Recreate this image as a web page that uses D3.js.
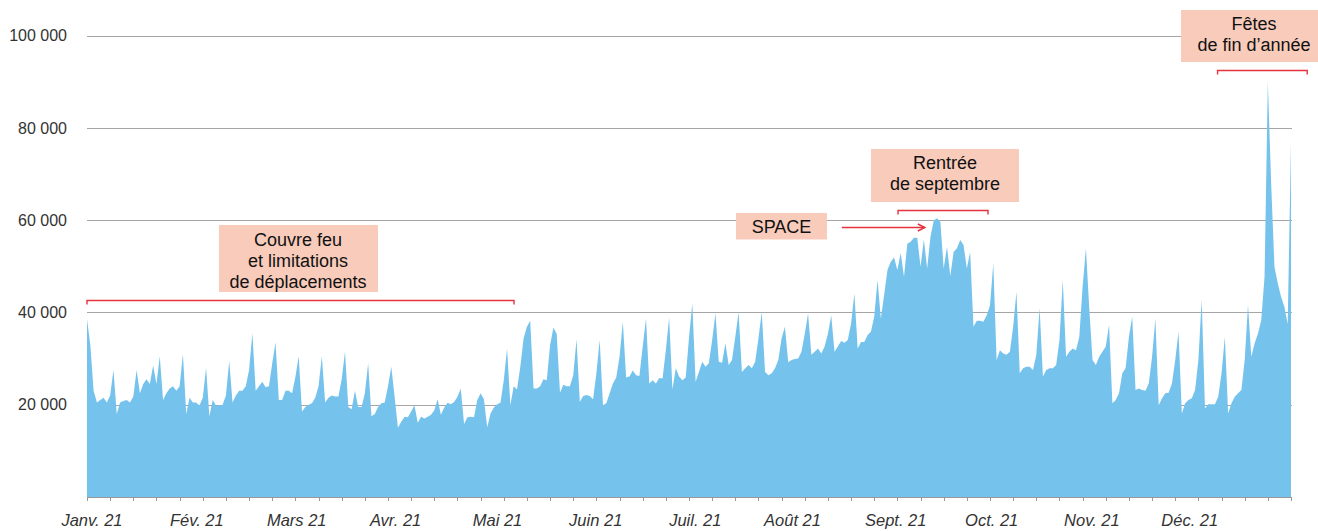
<!DOCTYPE html>
<html>
<head>
<meta charset="utf-8">
<script src="https://cdn.jsdelivr.net/npm/d3@7"></script>
<style>
  html, body { margin: 0; padding: 0; background: #fff; }
  svg { display: block; font-family: "Liberation Sans", Arial, Helvetica, sans-serif; }
</style>
</head>
<body>
<svg id="chart" width="1318" height="531"></svg>
<script>
// ---- DATA (thousands of daily values, 1 Jan 2021 -> 31 Dec 2021) ----
const dailyValuesK = [
  38.5, 33, 23, 20.5, 21, 21.5, 20.5, 22, 27.5, 18,
  20.5, 20.8, 21, 20.5, 21.8, 27.5, 22.5, 24.5, 25.5, 24.5,
  28.5, 24.5, 30.5, 21, 22.5, 23.5, 24, 23, 24, 31,
  18, 21.5, 20.5, 20.5, 19.8, 21.5, 28, 17.5, 21, 19.8,
  19.8, 20, 22, 29.5, 20.5, 22, 23, 23, 24, 27.5,
  35.5, 23, 24, 25, 23.8, 24, 29, 33.5, 21, 21,
  23, 23, 22.5, 26, 30.5, 18.5, 19.5, 20, 20.3, 21.5,
  24, 30.5, 20.5, 21.5, 22, 21.8, 21.8, 25.5, 31.5, 19.5,
  19, 23, 19.5, 19.5, 22.5, 29, 17.5, 18, 19.5, 20.3,
  20.5, 24, 28.2, 21.7, 15, 16.3, 17.4, 17.3, 18.5, 19.9,
  16.1, 17.4, 17, 17.4, 17.8, 18.8, 21.2, 17.8, 19.4, 20.4,
  20.1, 20.6, 21.7, 23.5, 15.8, 17.3, 17.4, 17.3, 21, 22.5,
  21.2, 15.1, 18.1, 19.4, 20.1, 20.4, 25.3, 32.2, 19.9, 24,
  23.3, 28.2, 34.4, 36.9, 38.2, 23.5, 23.5, 24, 25.5, 25.3,
  32.9, 36.7, 35.4, 22.6, 24.3, 24, 24, 26.4, 34.2, 20.6,
  21.9, 22.1, 21.9, 21.2, 26.8, 34, 19.9, 20.3, 22.5, 24.6,
  25.9, 30.4, 38, 25.9, 26.1, 27.4, 26.4, 26.2, 32.6, 38.7,
  24.6, 25.3, 24.6, 25.8, 25.7, 31.8, 38.9, 23.3, 27.9, 26.1,
  25.3, 25.9, 34.5, 42, 25, 27.1, 29.3, 28.2, 29, 34,
  39.8, 29.3, 29.1, 33.3, 28.6, 29.7, 34.7, 40.1, 27.1, 27.9,
  28.6, 27.9, 29.3, 34.4, 40.1, 27.1, 26.4, 26.8, 27.9, 29.7,
  34.4, 36.9, 29.2, 29.7, 29.9, 30, 31.5, 35.4, 39.8, 30.8,
  31.5, 32.2, 31.1, 32.6, 35.4, 39.4, 31.5, 32.6, 33.8, 33.4,
  34, 37.6, 44.1, 32.2, 33.6, 33.6, 35.1, 35.8, 39.1, 47,
  38.7, 43.8, 49.2, 51, 51.9, 49.2, 52.9, 47.7, 54.9, 55.3,
  56.2, 56.2, 49.9, 55.8, 49.5, 56.4, 59.9, 60.4, 59.6, 49.5,
  54.2, 47.9, 53.1, 53.9, 55.7, 54.6, 49.5, 53.1, 36.9, 38.2,
  38.2, 38, 39.4, 41.5, 50.6, 29.7, 31.8, 31.1, 30.8, 31.5,
  36.9, 44.5, 26.8, 27.9, 28.2, 28.2, 27.5, 30.8, 40.9, 26.1,
  27.5, 27.9, 27.9, 28.6, 34, 47, 30.4, 31.5, 32.2, 31.8,
  34.7, 45.6, 53.9, 41, 29.7, 28.6, 30.4, 31.5, 32.6, 37.3,
  20.3, 21, 22.5, 26.8, 27.9, 34.7, 39.1, 23.2, 23.5, 23.2,
  23, 24.6, 30.4, 38.7, 19.9, 21.4, 22.5, 22.6, 24.6, 29.7,
  35.8, 18.1, 20.3, 21, 21.4, 23.2, 29.7, 42.8, 19.2, 20.1,
  20.1, 20.1, 21.7, 26.8, 34.7, 18.1, 20.3, 21.7, 22.5, 23.2,
  29.7, 41.6, 30.4, 33.3, 35.4, 38.3, 47.7, 90, 68, 49.9,
  46.3, 43.4, 41.2, 37.5, 77
];
const dailyValues = dailyValuesK.map(v => v * 1000);

const yTickValues = [20000, 40000, 60000, 80000, 100000];
const monthLabels = ["Janv. 21", "Fév. 21", "Mars 21", "Avr. 21", "Mai 21", "Juin 21",
                     "Juil. 21", "Août 21", "Sept. 21", "Oct. 21", "Nov. 21", "Déc. 21"];
// day index (0 = 1 Jan) under each month label
const monthLabelDays = [1.5, 33.2, 63.4, 93.3, 124.1, 153.8, 183.9, 213.3, 244.5, 273.5, 303.8, 333.4];
const weekTickDays = d3.range(0, 365, 7);

// annotations: bracket spans in day units
const bracketSpans = [
  { from: 0, to: 129.1 },      // Couvre feu
  { from: 245.2, to: 272.4 },  // Rentrée
  { from: 341.8, to: 368.9 }   // Fêtes
];
const annotationTexts = [
  ["Couvre feu", "et limitations", "de déplacements"],
  ["SPACE"],
  ["Rentrée", "de septembre"],
  ["Fêtes", "de fin d\u2019année"]
];

// ---- CHART ----
const svg = d3.select("#chart");
const x = d3.scaleLinear().domain([0, 364]).range([87, 1291]);
const y = d3.scaleLinear().domain([0, 100000]).range([497, 35.5]);

const frLocale = d3.formatLocale({ decimal: ",", thousands: " ", grouping: [3], currency: ["", " €"] });
const fmt = frLocale.format(",d");

// gridlines
svg.append("g").selectAll("line").data(yTickValues).join("line")
  .attr("x1", x(0)).attr("x2", x(364) + 1)
  .attr("y1", d => Math.round(y(d)) + 0.5).attr("y2", d => Math.round(y(d)) + 0.5)
  .attr("stroke", "#a6a6a6").attr("stroke-width", 1.2);

// y labels
svg.append("g").selectAll("text").data(yTickValues).join("text")
  .attr("x", 67).attr("y", d => y(d)).attr("dy", "0.36em")
  .attr("text-anchor", "end").attr("font-size", 16).attr("fill", "#333")
  .text(d => fmt(d));

// area
const area = d3.area()
  .x((d, i) => x(i))
  .y0(y(0))
  .y1(d => y(d))
  .curve(d3.curveLinear);
svg.append("path").datum(dailyValues)
  .attr("d", area).attr("fill", "#75c3ed");

// x axis baseline + weekly ticks
svg.append("line").attr("x1", x(0)).attr("x2", x(364) + 1)
  .attr("y1", y(0) + 0.5).attr("y2", y(0) + 0.5)
  .attr("stroke", "#999").attr("stroke-width", 1.2);
svg.append("g").selectAll("line").data(weekTickDays).join("line")
  .attr("x1", d => Math.round(x(d)) + 0.5).attr("x2", d => Math.round(x(d)) + 0.5)
  .attr("y1", y(0)).attr("y2", y(0) + 4)
  .attr("stroke", "#999").attr("stroke-width", 1);

// month labels
svg.append("g").selectAll("text").data(monthLabels).join("text")
  .attr("x", (d, i) => x(monthLabelDays[i])).attr("y", 526)
  .attr("text-anchor", "middle").attr("font-size", 16.5).attr("font-style", "italic")
  .attr("fill", "#333").text(d => d);

// ---- ANNOTATIONS ----
const boxFill = "#f8cbbb";
const red = "#e5323f";

function bracket(span, yPix) {
  const g = svg.append("g");
  const x1 = x(span.from), x2 = x(span.to);
  g.append("path")
    .attr("d", `M${x1},${yPix + 4}V${yPix}H${x2}V${yPix + 4}`)
    .attr("fill", "none").attr("stroke", red).attr("stroke-width", 1.4);
}
function box(lines, x0, y0, w, h, cx, baseline) {
  const g = svg.append("g");
  g.append("rect").attr("x", x0).attr("y", y0).attr("width", w).attr("height", h).attr("fill", boxFill);
  g.selectAll("text").data(lines).join("text")
    .attr("x", cx).attr("y", (d, i) => baseline + i * 21)
    .attr("text-anchor", "middle").attr("font-size", 18).attr("fill", "#111")
    .text(d => d);
}

bracket(bracketSpans[0], 300.5);
bracket(bracketSpans[1], 210.5);
bracket(bracketSpans[2], 70.5);

box(annotationTexts[0], 219, 225, 159, 67, 298, 245.5);
box(annotationTexts[1], 736, 213, 91, 26.5, 781.5, 232.5);
box(annotationTexts[2], 871, 149, 148, 53, 945, 169);
box(annotationTexts[3], 1181, 10, 150, 52, 1254, 30);

// SPACE arrow
const ax1 = x(228.2), ax2 = x(253.3), ay = 227.5;
svg.append("line").attr("x1", ax1).attr("x2", ax2).attr("y1", ay).attr("y2", ay)
  .attr("stroke", red).attr("stroke-width", 1.4);
svg.append("path").attr("d", `M${ax2 - 7},${ay - 3.5}L${ax2},${ay}L${ax2 - 7},${ay + 3.5}`)
  .attr("fill", "none").attr("stroke", red).attr("stroke-width", 1.4);
</script>
</body>
</html>
